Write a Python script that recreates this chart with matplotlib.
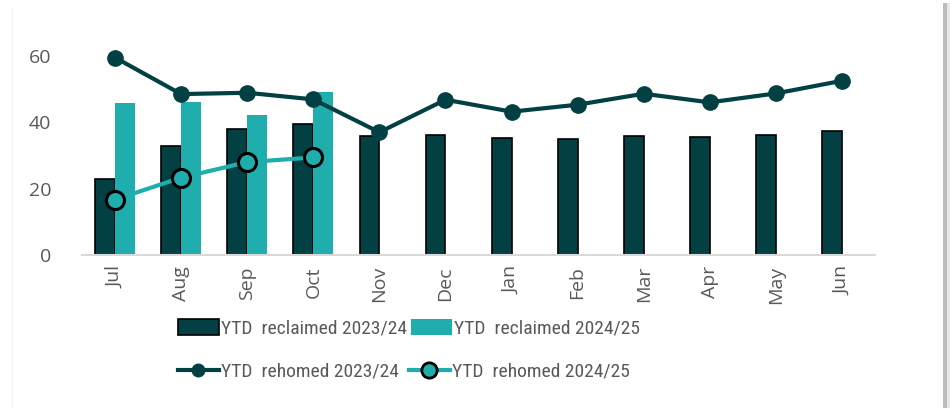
import matplotlib
matplotlib.use("Agg")
import matplotlib.pyplot as plt
from matplotlib.patches import Rectangle
from matplotlib.lines import Line2D
from matplotlib import font_manager
import os
import numpy as np

months = ["Jul", "Aug", "Sep", "Oct", "Nov", "Dec", "Jan", "Feb", "Mar", "Apr", "May", "Jun"]
reclaimed_2324 = [23.0, 32.8, 38.1, 39.5, 36.0, 36.3, 35.3, 35.1, 36.0, 35.6, 36.3, 37.4]
reclaimed_2425 = [45.7, 46.2, 42.2, 49.2]
rehomed_2324 = [59.5, 48.5, 48.9, 46.9, 37.0, 46.8, 43.2, 45.3, 48.6, 46.0, 48.7, 52.5]
rehomed_2425 = [16.7, 23.3, 28.0, 29.4]
yticks = [0, 20, 40, 60]
legend_labels = ["YTD  reclaimed 2023/24", "YTD  reclaimed 2024/25",
                 "YTD  rehomed 2023/24", "YTD  rehomed 2024/25"]

DARK = "#024044"
TEAL = "#20ADAD"
GREY = "#595959"

plt.rcParams['font.family'] = ['Open Sans', 'DejaVu Sans']


def pick_condensed(size):
    prefs = [("notosans", "condensed"), ("opensans", "condensed"), ("roboto", "condensed"),
             ("asap", "condensed"), ("archivo", "narrow")]
    bad = ("italic", "bold", "light", "black", "medium", "thin", "semi", "extra")
    entries = font_manager.fontManager.ttflist
    for a, b in prefs:
        for f in entries:
            base = os.path.basename(f.fname).lower().replace("_", "").replace("-", "").replace(" ", "")
            if a in base and b in base and not any(k in base for k in bad):
                return font_manager.FontProperties(family=f.name, style=f.style,
                                                   weight=f.weight, stretch=f.stretch, size=size)
    return font_manager.FontProperties(family="Open Sans", size=size)


leg_font = pick_condensed(14)

fig = plt.figure(figsize=(9.5, 4.08), dpi=100)
ax = fig.add_axes([82/950, 1 - 255/408, (875-82)/950, (255-41)/408])

x = np.arange(len(months))
w = 0.3
b1 = ax.bar(x - w/2, reclaimed_2324, width=w, color=DARK, edgecolor="black", linewidth=1.2, zorder=2)
x2 = np.arange(len(reclaimed_2425))
b2 = ax.bar(x2 + w/2, reclaimed_2425, width=w, color=TEAL, edgecolor=TEAL, linewidth=0, zorder=2)
l1, = ax.plot(x, rehomed_2324, color=DARK, linewidth=3, marker="o", markersize=11,
              markerfacecolor=DARK, markeredgecolor=DARK, zorder=4)
l2, = ax.plot(x2, rehomed_2425, color=TEAL, linewidth=3, marker="o", markersize=13,
              markerfacecolor=TEAL, markeredgecolor="black", markeredgewidth=2.2, zorder=5)

ax.set_xlim(-0.5, len(months) - 0.5)
ax.set_ylim(0, 64.5)
ax.set_yticks(yticks)
ax.set_yticklabels([str(v) for v in yticks], fontsize=14, color=GREY)
ax.set_xticks(x)
ax.set_xticklabels(months, rotation=90, fontsize=14, color=GREY)
ax.tick_params(axis="both", length=0, pad=8)
ax.tick_params(axis="y", pad=22)
for s in ["top", "right", "left"]:
    ax.spines[s].set_visible(False)
ax.spines["bottom"].set_color("#D9D9D9")
ax.spines["bottom"].set_linewidth(1.5)

fig.legend([b1, b2], legend_labels[:2], loc="center left",
           bbox_to_anchor=(178/950, 1 - 328/408), ncol=2, frameon=False, prop=leg_font,
           labelcolor=GREY, handlelength=2.1, handleheight=0.9, handletextpad=0.12,
           columnspacing=0.2, borderpad=0, borderaxespad=0)
l1h = Line2D([], [], color=DARK, linewidth=3, marker="o", markersize=9, markerfacecolor=DARK,
             markeredgecolor=DARK)
l2h = Line2D([], [], color=TEAL, linewidth=3, marker="o", markersize=11, markerfacecolor=TEAL,
             markeredgecolor="black", markeredgewidth=2)
fig.legend([l1h, l2h], legend_labels[2:], loc="center left",
           bbox_to_anchor=(178/950, 1 - 372/408), ncol=2, frameon=False, prop=leg_font,
           labelcolor=GREY, handlelength=2.1, handletextpad=0.12, columnspacing=0.5,
           borderpad=0, borderaxespad=0)

# chart border shadow on the right and faint left line
fig.patches.append(Rectangle((943/950, 0), 7/950, 1 - 3/408, transform=fig.transFigure,
                             facecolor="#BDBDBD", edgecolor="none"))
fig.patches.append(Rectangle((947/950, 0), 3/950, 1 - 3/408, transform=fig.transFigure,
                             facecolor="#E8E8E8", edgecolor="none"))
fig.add_artist(Line2D([12/950, 12/950], [0, 1 - 8/408], transform=fig.transFigure,
                      color="#F3F3F3", linewidth=1))

fig.savefig("out.png", dpi=100)
